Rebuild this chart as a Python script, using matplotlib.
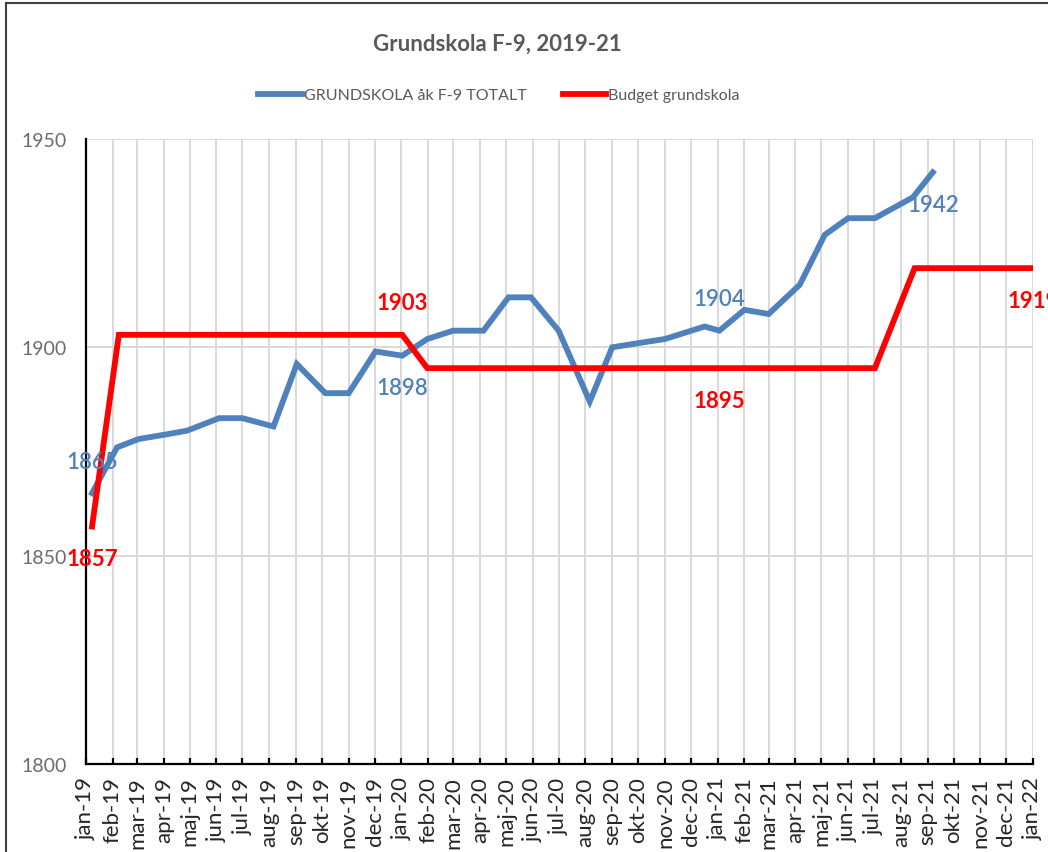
import matplotlib.pyplot as plt
import matplotlib.dates as mdates
import numpy as np
import pandas as pd
from matplotlib.lines import Line2D

# --- data (dates are where the vertices sit on the date axis) ---
elev_datum = pd.to_datetime([
    "2019-01-08", "2019-02-06", "2019-03-03", "2019-04-01", "2019-04-28", "2019-06-04",
    "2019-07-01", "2019-08-06", "2019-09-02", "2019-10-05", "2019-11-01", "2019-12-02",
    "2020-01-02", "2020-01-31", "2020-03-01", "2020-04-05", "2020-05-04", "2020-05-30",
    "2020-07-01", "2020-08-06", "2020-09-01", "2020-10-01", "2020-11-01", "2020-12-17",
    "2021-01-03", "2021-02-01", "2021-03-01", "2021-04-06", "2021-05-05", "2021-06-01",
    "2021-07-02", "2021-08-15", "2021-09-07",
])
elever = [1865, 1876, 1878, 1879, 1880, 1883, 1883, 1881, 1896, 1889, 1889, 1899,
          1898, 1902, 1904, 1904, 1912, 1912, 1904, 1887, 1900, 1901, 1902, 1905,
          1904, 1909, 1908, 1915, 1927, 1931, 1931, 1936, 1942]

budget_datum = pd.to_datetime([
    "2019-01-08", "2019-02-08", "2020-01-02", "2020-01-31",
    "2021-01-03", "2021-07-02", "2021-08-17", "2022-01-01",
])
budget = [1857, 1903, 1903, 1895, 1895, 1895, 1919, 1919]

manader = ["jan", "feb", "mar", "apr", "maj", "jun", "jul", "aug", "sep", "okt", "nov", "dec"]

# which points get a value label, and above (+1) or below (-1)
elev_etiketter = [(0, 1), (12, -1), (24, 1), (32, -1)]
budget_etiketter = [(0, -1), (2, 1), (4, -1), (7, -1)]

BLA = "#4f81bd"
ROD = "#ff0000"
GRA = "#595959"

plt.rcParams['font.family'] = ['Lato', 'DejaVu Sans']

fig = plt.figure(figsize=(10.48, 8.53), dpi=100)
ax = fig.add_axes([86 / 1048, 1 - 765 / 853, (1033 - 86) / 1048, (765 - 140) / 853])

ax.plot(elev_datum, elever, color=BLA, lw=4.2, solid_joinstyle='miter', zorder=3)
ax.plot(budget_datum, budget, color=ROD, lw=4.2, solid_joinstyle='miter', zorder=3)

for i, sida in elev_etiketter:
    ax.annotate(str(elever[i]), xy=(elev_datum[i], elever[i]), xytext=(0, 23 * sida),
                textcoords='offset points', ha='center', va='center',
                color=BLA, fontsize=16, fontweight='semibold', zorder=4,
                annotation_clip=False)
for i, sida in budget_etiketter:
    ax.annotate(str(budget[i]), xy=(budget_datum[i], budget[i]), xytext=(0, 23 * sida),
                textcoords='offset points', ha='center', va='center',
                color=ROD, fontsize=16, fontweight='bold', zorder=4,
                annotation_clip=False)

# axes
ax.set_xlim(pd.Timestamp("2019-01-01"), pd.Timestamp("2022-01-01"))
ax.set_ylim(1800, 1950)
ax.set_yticks([1800, 1850, 1900, 1950])
ax.xaxis.set_major_locator(mdates.MonthLocator())
ax.xaxis.set_major_formatter(
    plt.FuncFormatter(lambda x, pos: f"{manader[mdates.num2date(x).month - 1]}-{mdates.num2date(x).strftime('%y')}"))

ax.grid(True, color="#d9d9d9", lw=1.4, zorder=0)
ax.set_axisbelow(True)
for s in ["top", "right"]:
    ax.spines[s].set_visible(False)
for s in ["left", "bottom"]:
    ax.spines[s].set_color("black")
    ax.spines[s].set_linewidth(1.6)

ax.tick_params(axis='y', length=0, pad=14, labelsize=14, labelcolor="#6b6b6b")
ax.tick_params(axis='x', direction='in', length=4, width=1.6, pad=9,
               labelsize=16, labelcolor="#262626", labelrotation=90)

# title and legend
fig.text(497 / 1048, 1 - 44 / 853, "Grundskola F-9, 2019-21", ha='center', va='center',
         fontsize=16, fontweight='bold', color=GRA)
handtag = [Line2D([], [], color=BLA, lw=4.2), Line2D([], [], color=ROD, lw=4.2)]
fig.legend(handtag, ["GRUNDSKOLA åk F-9 TOTALT", "Budget grundskola"],
           loc='center', bbox_to_anchor=(499 / 1048, 1 - 96 / 853), ncol=2, frameon=False,
           fontsize=11.5, handlelength=2.7, handletextpad=0.12, columnspacing=2.3,
           labelcolor=GRA)

# chart border (top and left edge of the cropped chart area)
fig.add_artist(Line2D([6 / 1048, 6 / 1048], [0, 1 - 4 / 853], transform=fig.transFigure,
                      color="#404040", lw=1.5))
fig.add_artist(Line2D([6 / 1048, 1], [1 - 4 / 853, 1 - 4 / 853], transform=fig.transFigure,
                      color="#404040", lw=1.5))

plt.savefig("out.png", dpi=100, facecolor="white")
